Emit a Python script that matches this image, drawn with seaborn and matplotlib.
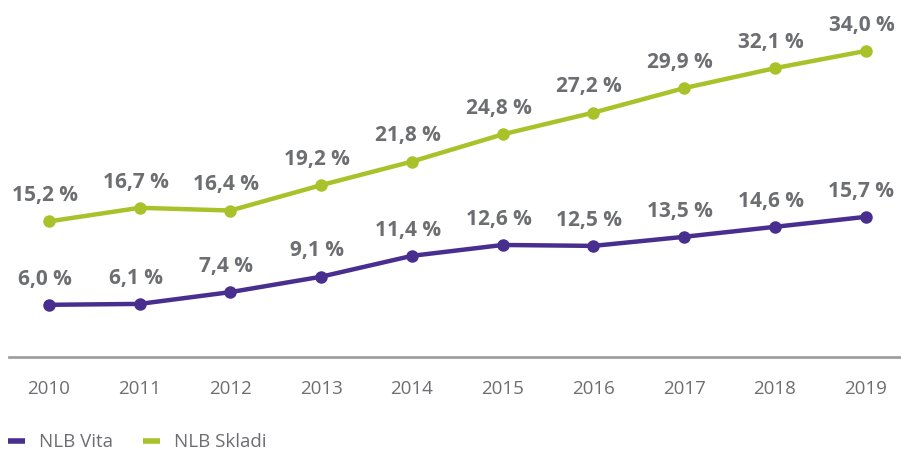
import matplotlib.pyplot as plt
import seaborn as sns
import pandas as pd

# values
years = [2010, 2011, 2012, 2013, 2014, 2015, 2016, 2017, 2018, 2019]
vita = [6.0, 6.1, 7.4, 9.1, 11.4, 12.6, 12.5, 13.5, 14.6, 15.7]
skladi = [15.2, 16.7, 16.4, 19.2, 21.8, 24.8, 27.2, 29.9, 32.1, 34.0]
series_names = ['NLB Vita', 'NLB Skladi']

purple = '#482f8f'
green = '#a9c22a'
grey = '#6d6e71'

sns.set_style('white')
plt.rcParams['font.family'] = ['Open Sans', 'DejaVu Sans']

df = pd.DataFrame({
    'year': years * 2,
    'value': vita + skladi,
    'series': [series_names[0]] * len(years) + [series_names[1]] * len(years),
})

fig = plt.figure(figsize=(9.01, 4.5), dpi=100)
ax = fig.add_axes([0.01, 0.207, 0.99, 0.793])

sns.lineplot(data=df, x='year', y='value', hue='series',
             palette=[purple, green], linewidth=3.2, marker='o',
             markersize=9, markeredgewidth=0, ax=ax, legend=False)

for vals in (vita, skladi):
    for x, v in zip(years, vals):
        ax.annotate(('%.1f %%' % v).replace('.', ','), (x, v),
                    xytext=(-3, 11), textcoords='offset points',
                    ha='center', va='bottom', fontsize=15,
                    fontweight='bold', color=grey)

ax.set_xlim(2009.56, 2019.39)
ax.set_ylim(0.26, 39.62)
ax.set_xticks(years)
ax.set_xticklabels([str(y) for y in years])
ax.set_yticks([])
ax.set_xlabel('')
ax.set_ylabel('')
ax.tick_params(axis='x', length=0, pad=17, labelsize=13.5, labelcolor=grey)
for s in ['top', 'left', 'right']:
    ax.spines[s].set_visible(False)
ax.spines['bottom'].set_color('#a0a0a0')
ax.spines['bottom'].set_linewidth(2)

handles = [plt.Line2D([], [], color=purple, linewidth=4, solid_capstyle='butt'),
           plt.Line2D([], [], color=green, linewidth=4, solid_capstyle='butt')]
leg = fig.legend(handles, series_names, loc='lower left',
                 bbox_to_anchor=(-0.006, -0.032), ncol=2, frameon=False,
                 handlelength=0.9, handletextpad=0.75, columnspacing=1.6,
                 fontsize=13.5, borderaxespad=0.3)
for t in leg.get_texts():
    t.set_color(grey)

fig.savefig('out.png', dpi=100)
